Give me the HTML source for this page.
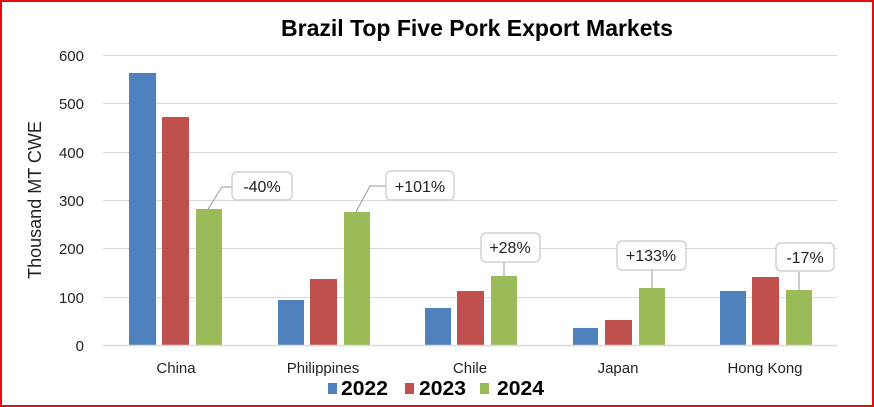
<!DOCTYPE html>
<html><head><meta charset="utf-8"><style>
html,body{margin:0;padding:0;background:#fff;}
svg{display:block;font-family:"Liberation Sans",sans-serif;}
</style></head><body>
<svg width="874" height="407" viewBox="0 0 874 407" xmlns="http://www.w3.org/2000/svg">
<rect x="1" y="1" width="872" height="405" fill="#fff" stroke="#e01010" stroke-width="2"/>
<text x="477" y="36" text-anchor="middle" font-size="23" font-weight="bold" fill="#000">Brazil Top Five Pork Export Markets</text>
<g stroke="#d9d9d9" stroke-width="1">
<line x1="103" y1="55.5" x2="837" y2="55.5"/>
<line x1="103" y1="103.5" x2="837" y2="103.5"/>
<line x1="103" y1="152.5" x2="837" y2="152.5"/>
<line x1="103" y1="200.5" x2="837" y2="200.5"/>
<line x1="103" y1="248.5" x2="837" y2="248.5"/>
<line x1="103" y1="297.5" x2="837" y2="297.5"/>
</g>
<g font-size="15" fill="#222" text-anchor="end">
<text x="84" y="61">600</text><text x="84" y="109">500</text><text x="84" y="158">400</text>
<text x="84" y="206">300</text><text x="84" y="254">200</text><text x="84" y="303">100</text><text x="84" y="351">0</text>
</g>
<text transform="translate(41,200) rotate(-90)" text-anchor="middle" font-size="18" fill="#222">Thousand MT CWE</text>
<g fill="#4f81bd">
<rect x="129" y="73" width="27" height="272"/><rect x="278" y="300" width="26" height="45"/>
<rect x="425" y="308" width="26" height="37"/><rect x="573" y="328" width="25" height="17"/>
<rect x="720" y="291" width="26" height="54"/>
</g>
<g fill="#c0504d">
<rect x="162" y="117" width="27" height="228"/><rect x="310" y="279" width="27" height="66"/>
<rect x="457" y="291" width="27" height="54"/><rect x="605" y="320" width="27" height="25"/>
<rect x="752" y="277" width="27" height="68"/>
</g>
<g fill="#9bbb59">
<rect x="196" y="209" width="26" height="136"/><rect x="344" y="212" width="26" height="133"/>
<rect x="491" y="276" width="26" height="69"/><rect x="639" y="288" width="26" height="57"/>
<rect x="786" y="290" width="26" height="55"/>
</g>
<line x1="103" y1="345.5" x2="837" y2="345.5" stroke="#d9d9d9" stroke-width="1.5"/>
<g stroke="#999" stroke-width="1" fill="none">
<polyline points="208,209 222,187 232,187"/>
<polyline points="356,212 370,186 386,186"/>
<polyline points="504,276 504,262"/>
<polyline points="652,288 652,270"/>
<polyline points="799,290 799,272"/>
</g>
<g fill="#fff" stroke="#c8c8c8" stroke-width="1.2">
<rect x="232" y="172" width="60" height="28" rx="5"/>
<rect x="386" y="171" width="68" height="29" rx="5"/>
<rect x="481" y="233" width="59" height="29" rx="5"/>
<rect x="617" y="241" width="69" height="29" rx="5"/>
<rect x="776" y="243" width="58" height="28" rx="5"/>
</g>
<g font-size="16" fill="#222" text-anchor="middle">
<text x="262" y="192">-40%</text><text x="420" y="192">+101%</text>
<text x="510" y="253">+28%</text><text x="651" y="261">+133%</text><text x="805" y="263">-17%</text>
</g>
<g font-size="15" fill="#222" text-anchor="middle">
<text x="176" y="373">China</text><text x="323" y="373">Philippines</text><text x="470" y="373">Chile</text>
<text x="618" y="373">Japan</text><text x="765" y="373">Hong Kong</text>
</g>
<rect x="328" y="383" width="9" height="11" fill="#4f81bd"/>
<rect x="405" y="383" width="9" height="11" fill="#c0504d"/>
<rect x="480" y="383" width="9" height="11" fill="#9bbb59"/>
<g font-size="20" font-weight="bold" fill="#000">
<text x="341" y="395" textLength="47" lengthAdjust="spacingAndGlyphs">2022</text>
<text x="419" y="395" textLength="47" lengthAdjust="spacingAndGlyphs">2023</text>
<text x="497" y="395" textLength="47" lengthAdjust="spacingAndGlyphs">2024</text>
</g>
</svg>
</body></html>
